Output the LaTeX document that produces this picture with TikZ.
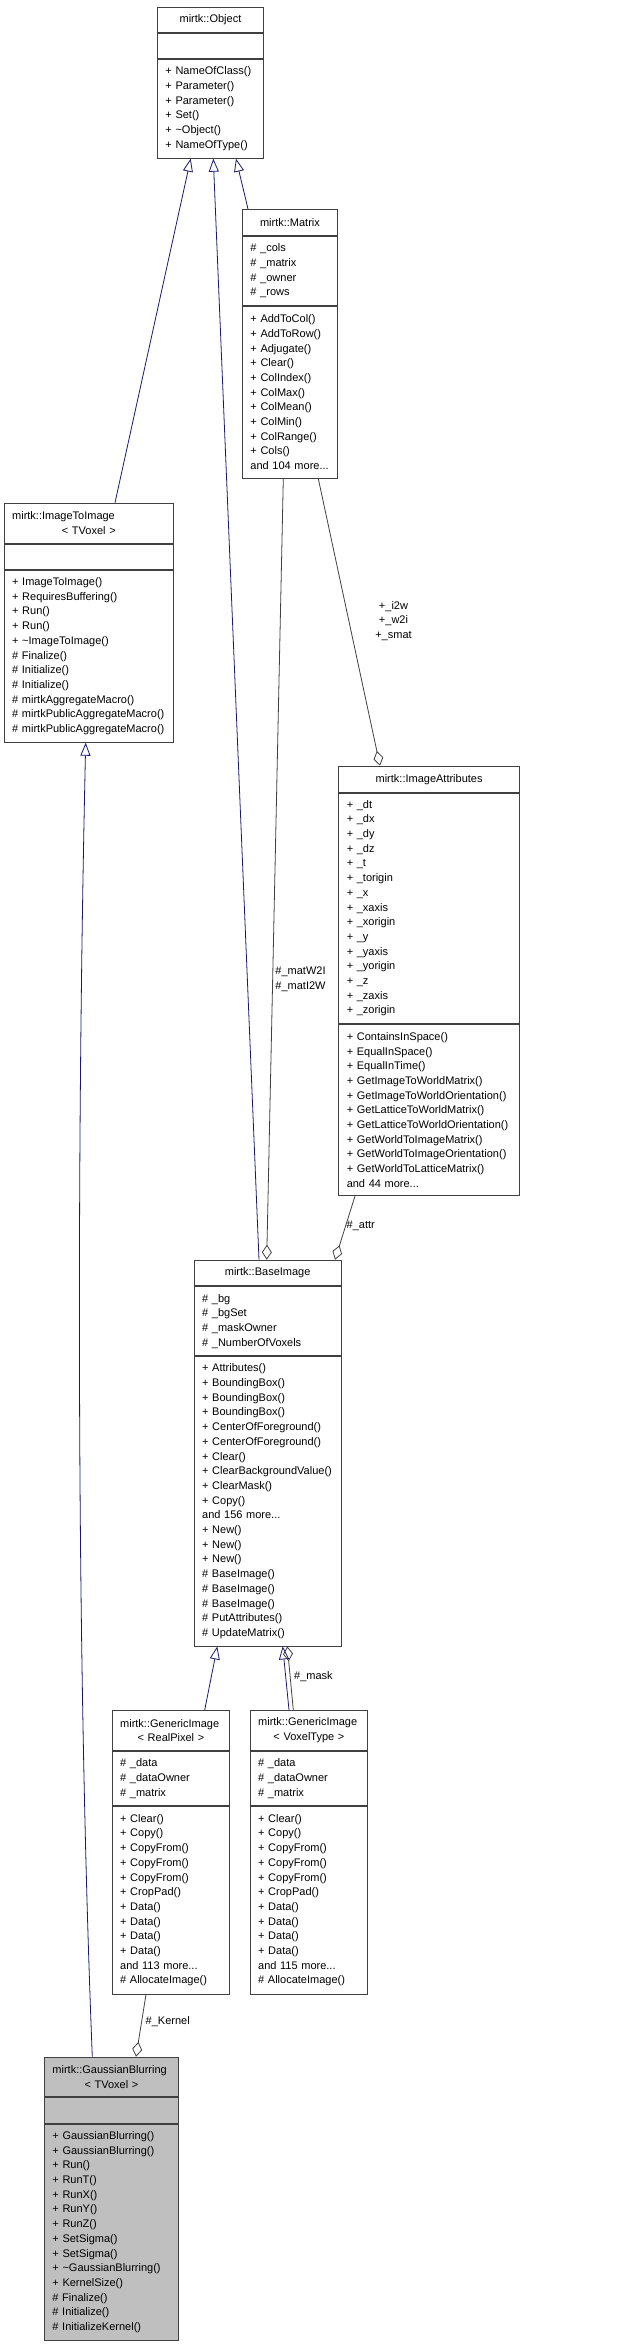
\documentclass[tikz,border=0pt]{standalone}
\usepackage{fontspec}
\setmainfont{Liberation Sans}
\usetikzlibrary{arrows.meta,positioning}
\definecolor{ink}{HTML}{000000}
\definecolor{boxc}{HTML}{404040}
\definecolor{edgec}{HTML}{191970}
\definecolor{aggc}{HTML}{404040}
\definecolor{hilite}{HTML}{BFBFBF}
\tikzset{
  cls/.style={draw=boxc,fill=white,line width=0.9pt,inner xsep=8pt,inner ysep=0pt,
    align=left,font=\fontsize{11}{14.7}\selectfont,text=ink},
  ttl/.style={cls,align=center},
  cur/.style={fill=hilite},
  inh/.style={-{Triangle[open,length=13pt,width=10pt]},line width=0.8pt,color=edgec},
  agg/.style={-{Diamond[open,length=15pt,width=10pt]},line width=0.8pt,color=aggc},
  lbl/.style={font=\fontsize{11}{14.7}\selectfont,text=ink,align=center,inner sep=0pt}
}
\begin{document}
\begin{tikzpicture}[x=1pt,y=-1pt]
  \useasboundingbox (0,0) rectangle (621,2344);
  % mirtk::Object
  \node[ttl,anchor=north west,text width=90pt,minimum height=25pt] (obj) at (157,7) {mirtk::Object};
  \node[cls,below=0pt of obj,text width=90pt,minimum height=25pt] (obj-a) {};
  \node[cls,below=0pt of obj-a,text width=90pt,minimum height=99pt] (obj-m)
    {+ NameOfClass()\\+ Parameter()\\+ Parameter()\\+ Set()\\+ \textasciitilde Object()\\+ NameOfType()};
  % mirtk::Matrix
  \node[ttl,anchor=north west,text width=79pt,minimum height=26pt] (mx) at (242,209) {mirtk::Matrix};
  \node[cls,below=0pt of mx,text width=79pt,minimum height=69pt] (mx-a)
    {\# \_cols\\\# \_matrix\\\# \_owner\\\# \_rows};
  \node[cls,below=0pt of mx-a,text width=79pt,minimum height=172pt] (mx-m)
    {+ AddToCol()\\+ AddToRow()\\+ Adjugate()\\+ Clear()\\+ ColIndex()\\+ ColMax()\\
     + ColMean()\\+ ColMin()\\+ ColRange()\\+ Cols()\\and 104 more...};
  % mirtk::ImageToImage
  \node[ttl,anchor=north west,text width=153.3pt,minimum height=40.3pt] (iti) at (3.7,502.7)
    {\makebox[\linewidth][l]{mirtk::ImageToImage}\\< TVoxel >};
  \node[cls,below=0pt of iti,text width=153.3pt,minimum height=25pt] (iti-a) {};
  \node[cls,below=0pt of iti-a,text width=153.3pt,minimum height=172pt] (iti-m)
    {+ ImageToImage()\\+ RequiresBuffering()\\+ Run()\\+ Run()\\+ \textasciitilde ImageToImage()\\
     \# Finalize()\\\# Initialize()\\\# Initialize()\\\# mirtkAggregateMacro()\\
     \# mirtkPublicAggregateMacro()\\\# mirtkPublicAggregateMacro()};
  % mirtk::ImageAttributes
  \node[ttl,anchor=north west,text width=164.7pt,minimum height=26pt] (ia) at (338.3,765.7) {mirtk::ImageAttributes};
  \node[cls,below=0pt of ia,text width=164.7pt,minimum height=230.3pt] (ia-a)
    {+ \_dt\\+ \_dx\\+ \_dy\\+ \_dz\\+ \_t\\+ \_torigin\\+ \_x\\+ \_xaxis\\+ \_xorigin\\
     + \_y\\+ \_yaxis\\+ \_yorigin\\+ \_z\\+ \_zaxis\\+ \_zorigin};
  \node[cls,below=0pt of ia-a,text width=164.7pt,minimum height=171.3pt] (ia-m)
    {+ ContainsInSpace()\\+ EqualInSpace()\\+ EqualInTime()\\+ GetImageToWorldMatrix()\\
     + GetImageToWorldOrientation()\\+ GetLatticeToWorldMatrix()\\+ GetLatticeToWorldOrientation()\\
     + GetWorldToImageMatrix()\\+ GetWorldToImageOrientation()\\+ GetWorldToLatticeMatrix()\\
     and 44 more...};
  % mirtk::BaseImage
  \node[ttl,anchor=north west,text width=131pt,minimum height=25.6pt] (bi) at (193.7,1259.7) {mirtk::BaseImage};
  \node[cls,below=0pt of bi,text width=131pt,minimum height=69pt] (bi-a)
    {\# \_bg\\\# \_bgSet\\\# \_maskOwner\\\# \_NumberOfVoxels};
  \node[cls,below=0pt of bi-a,text width=131pt,minimum height=289.4pt] (bi-m)
    {+ Attributes()\\+ BoundingBox()\\+ BoundingBox()\\+ BoundingBox()\\+ CenterOfForeground()\\
     + CenterOfForeground()\\+ Clear()\\+ ClearBackgroundValue()\\+ ClearMask()\\+ Copy()\\
     and 156 more...\\+ New()\\+ New()\\+ New()\\\# BaseImage()\\\# BaseImage()\\\# BaseImage()\\
     \# PutAttributes()\\\# UpdateMatrix()};
  % mirtk::GenericImage< RealPixel >
  \node[ttl,anchor=north west,text width=101.6pt,minimum height=40pt] (gr) at (111.7,1710)
    {\makebox[\linewidth][l]{mirtk::GenericImage}\\< RealPixel >};
  \node[cls,below=0pt of gr,text width=101.6pt,minimum height=54.3pt] (gr-a)
    {\# \_data\\\# \_dataOwner\\\# \_matrix};
  \node[cls,below=0pt of gr-a,text width=101.6pt,minimum height=187.4pt] (gr-m)
    {+ Clear()\\+ Copy()\\+ CopyFrom()\\+ CopyFrom()\\+ CopyFrom()\\+ CropPad()\\+ Data()\\
     + Data()\\+ Data()\\+ Data()\\and 113 more...\\\# AllocateImage()};
  % mirtk::GenericImage< VoxelType >
  \node[ttl,anchor=north west,text width=101.6pt,minimum height=40pt] (gv) at (249.7,1710)
    {\makebox[\linewidth][l]{mirtk::GenericImage}\\< VoxelType >};
  \node[cls,below=0pt of gv,text width=101.6pt,minimum height=54.3pt] (gv-a)
    {\# \_data\\\# \_dataOwner\\\# \_matrix};
  \node[cls,below=0pt of gv-a,text width=101.6pt,minimum height=187.4pt] (gv-m)
    {+ Clear()\\+ Copy()\\+ CopyFrom()\\+ CopyFrom()\\+ CopyFrom()\\+ CropPad()\\+ Data()\\
     + Data()\\+ Data()\\+ Data()\\and 115 more...\\\# AllocateImage()};
  % mirtk::GaussianBlurring< TVoxel >
  \node[ttl,cur,anchor=north west,text width=118pt,minimum height=39.3pt] (gb) at (44,2056.7)
    {\makebox[\linewidth][l]{mirtk::GaussianBlurring}\\< TVoxel >};
  \node[cls,cur,below=0pt of gb,text width=118pt,minimum height=26pt] (gb-a) {};
  \node[cls,cur,below=0pt of gb-a,text width=118pt,minimum height=215.7pt] (gb-m)
    {+ GaussianBlurring()\\+ GaussianBlurring()\\+ Run()\\+ RunT()\\+ RunX()\\+ RunY()\\+ RunZ()\\
     + SetSigma()\\+ SetSigma()\\+ \textasciitilde GaussianBlurring()\\+ KernelSize()\\
     \# Finalize()\\\# Initialize()\\\# InitializeKernel()};
  % inheritance
  \draw[inh] ([xshift=111.3pt]iti.north west) -- ([xshift=33.7pt]obj-m.south west);
  \draw[inh] ([xshift=65.3pt]bi.north west) -- ([xshift=56.3pt]obj-m.south west);
  \draw[inh] ([xshift=6pt]mx.north west) -- ([xshift=79pt]obj-m.south west);
  \draw[inh] ([xshift=93pt]gr.north west) -- ([xshift=23.6pt]bi-m.south west);
  \draw[inh] ([xshift=39.3pt]gv.north west) -- ([xshift=89pt]bi-m.south west);
  \draw[inh] ([xshift=48.3pt]gb.north west) .. controls +(-16,-400) and +(-9,400) .. ([xshift=82pt]iti-m.south west);
  % members
  \draw[agg] ([xshift=76.3pt]mx-m.south west) -- ([xshift=41.7pt]ia.north west);
  \draw[agg] ([xshift=41.3pt]mx-m.south west) -- ([xshift=73pt]bi.north west);
  \draw[agg] ([xshift=16.7pt]ia-m.south west) -- ([xshift=141.3pt]bi.north west);
  \draw[agg] ([xshift=43.6pt]gv.north west) -- ([xshift=93.6pt]bi-m.south west);
  \draw[agg] ([xshift=34.3pt]gr-m.south west) -- ([xshift=92pt]gb.north west);
  \node[lbl] (l-smat) at (393.5,621) {+\_i2w\\+\_w2i\\+\_smat};
  \node[lbl] (l-mat) at (300.5,979) {\#\_matW2I\\\#\_matI2W};
  \node[lbl,anchor=west] (l-attr) at (346.5,1226) {\#\_attr};
  \node[lbl,anchor=west] (l-mask) at (294,1677) {\#\_mask};
  \node[lbl,anchor=west] (l-kern) at (145.5,2022) {\#\_Kernel};
\end{tikzpicture}
\end{document}
